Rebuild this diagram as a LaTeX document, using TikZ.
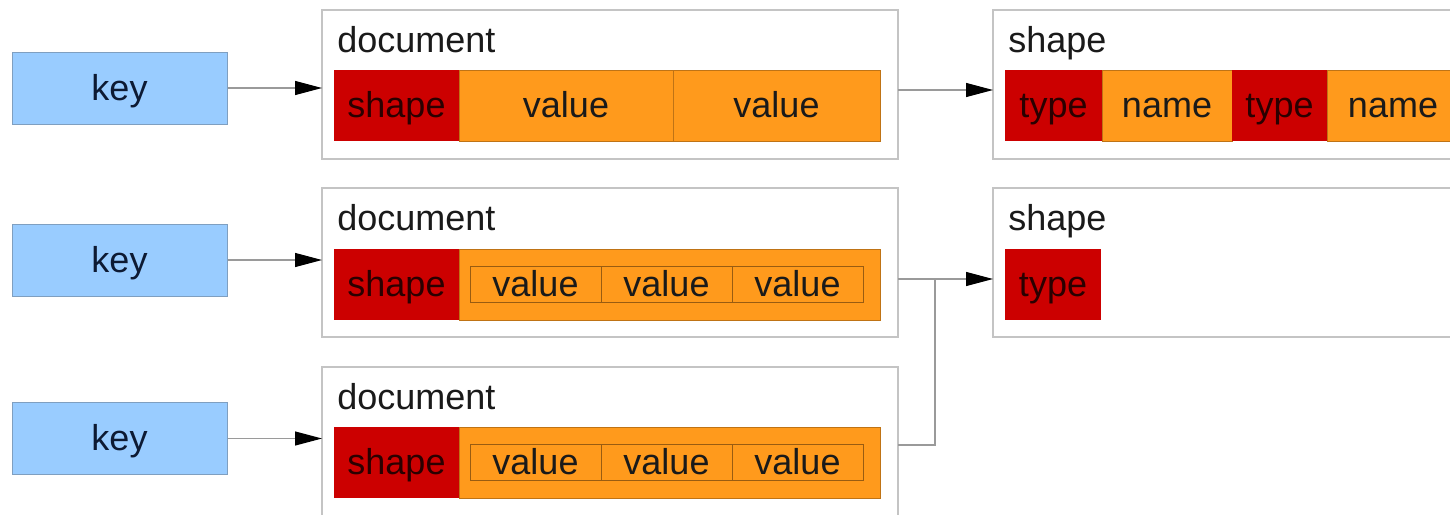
\documentclass[tikz,border=0pt]{standalone}
\usepackage{fontspec}
\setmainfont{Liberation Sans}
\usetikzlibrary{positioning, arrows.meta}
\definecolor{KeyBlue}{HTML}{99CCFF}
\definecolor{KeyEdge}{HTML}{7F9FC0}
\definecolor{KeyInk}{HTML}{0D1A33}
\definecolor{CellRed}{HTML}{CC0000}
\definecolor{CellOrange}{HTML}{FF9A1C}
\definecolor{CellInk}{HTML}{2A0000}
\definecolor{Frame}{HTML}{C4C4C4}
\definecolor{Wire}{HTML}{9A9A9A}
\definecolor{Ink}{HTML}{1A1A1A}
\tikzset{
    bigfont/.style={font=\fontsize{18}{20}\selectfont},
    keybox/.style={rectangle, fill=KeyBlue, draw=KeyEdge, line width=0.5pt, minimum width=107.5pt, minimum height=36pt, text=KeyInk, bigfont, text height=13.5pt, text depth=1.5pt},
    frame/.style={rectangle, draw=Frame, fill=white, line width=0.75pt, minimum width=288pt, minimum height=74.5pt, anchor=north west, inner sep=0pt, outer sep=0pt},
    title/.style={anchor=base west, inner sep=0pt, text=Ink, bigfont},
    cell/.style={rectangle, minimum height=35.5pt, inner sep=0pt, outer sep=0pt, text height=13.5pt, text depth=1.5pt, bigfont, text=Ink},
    redcell/.style={cell, fill=CellRed, text=CellInk},
    orangecell/.style={cell, fill=CellOrange, draw=CellOrange!75!black, line width=0.3pt},
    nestcell/.style={cell, minimum height=18pt, minimum width=65.5pt, draw=CellOrange!60!black, line width=0.4pt},
    wire/.style={draw=Wire, line width=0.6pt},
    arrow/.style={wire, -{Triangle[length=13.5pt, width=7pt, color=black]}},
}
\begin{document}
\begin{tikzpicture}[x=0.5pt, y=-0.5pt]
    \clip (0,0) rectangle (1450,514);
    \fill[white] (0,0) rectangle (1450,514);

    % Keys
    \node[keybox] (key1) at (119.5,88) {key};
    \node[keybox] (key2) at (119.5,260) {key};
    \node[keybox] (key3) at (119.5,438.5) {key};

    % Document 1
    \node[frame] (doc1) at (322,10) {};
    \node[title] at ([xshift=7.5pt, yshift=-21pt]doc1.north west) {document};
    \node[redcell, minimum width=62.5pt, anchor=north west] (d1s) at ([xshift=6pt, yshift=-30pt]doc1.north west) {shape};
    \node[orangecell, minimum width=107pt, right=0pt of d1s] (d1v1) {value};
    \node[orangecell, minimum width=103.5pt, right=0pt of d1v1] (d1v2) {value};

    % Document 2
    \node[frame] (doc2) at (322,188) {};
    \node[title] at ([xshift=7.5pt, yshift=-21pt]doc2.north west) {document};
    \node[redcell, minimum width=62.5pt, anchor=north west] (d2s) at ([xshift=6pt, yshift=-30.5pt]doc2.north west) {shape};
    \node[orangecell, minimum width=210.5pt, right=0pt of d2s] (d2v) {};
    \node[nestcell, anchor=west] (d2n1) at ([xshift=5.5pt]d2v.west) {value};
    \node[nestcell, right=0pt of d2n1] (d2n2) {value};
    \node[nestcell, right=0pt of d2n2] (d2n3) {value};

    % Document 3
    \node[frame] (doc3) at (322,367) {};
    \node[title] at ([xshift=7.5pt, yshift=-21pt]doc3.north west) {document};
    \node[redcell, minimum width=62.5pt, anchor=north west] (d3s) at ([xshift=6pt, yshift=-30pt]doc3.north west) {shape};
    \node[orangecell, minimum width=210.5pt, right=0pt of d3s] (d3v) {};
    \node[nestcell, anchor=west] (d3n1) at ([xshift=5.5pt]d3v.west) {value};
    \node[nestcell, right=0pt of d3n1] (d3n2) {value};
    \node[nestcell, right=0pt of d3n2] (d3n3) {value};

    % Shapes
    \node[frame, minimum width=235pt] (sh1) at (993,10) {};
    \node[title] at ([xshift=7.5pt, yshift=-21pt]sh1.north west) {shape};
    \node[redcell, minimum width=48.5pt, anchor=north west] (s1t1) at ([xshift=6pt, yshift=-30pt]sh1.north west) {type};
    \node[orangecell, minimum width=65pt, right=0pt of s1t1] (s1n1) {name};
    \node[redcell, minimum width=47.5pt, right=0pt of s1n1] (s1t2) {type};
    \node[orangecell, minimum width=66pt, right=0pt of s1t2] (s1n2) {name};

    \node[frame, minimum width=235pt] (sh2) at (993,188) {};
    \node[title] at ([xshift=7.5pt, yshift=-21pt]sh2.north west) {shape};
    \node[redcell, minimum width=48pt, anchor=north west] (s2t1) at ([xshift=6pt, yshift=-30.5pt]sh2.north west) {type};

    % Connectors
    \draw[arrow] (key1) -- (key1 -| doc1.west);
    \draw[arrow] (key2) -- (key2 -| doc2.west);
    \draw[arrow] (key3) -- (key3 -| doc3.west);
    \draw[arrow] ([yshift=-2.75pt]doc1.east) -- ([yshift=-2.75pt]doc1.east -| sh1.west);
    \coordinate (join) at ([xshift=18.5pt, yshift=-8.25pt]doc2.east);
    \draw[arrow] ([yshift=-8.25pt]doc2.east) -- ([yshift=-8.25pt]doc2.east -| sh2.west);
    \draw[wire] ([yshift=-1.75pt]doc3.east) -| (join);
\end{tikzpicture}
\end{document}
